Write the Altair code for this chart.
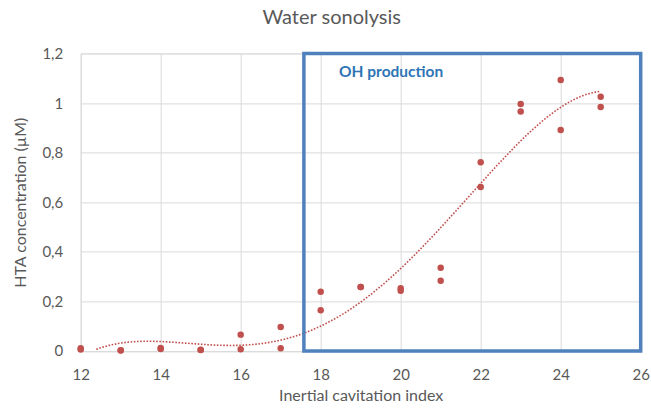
import altair as alt
import pandas as pd

# Measured HTA concentration at each inertial cavitation index (two runs per index)
cavitation_index = [12, 12, 13, 13, 14, 14, 15, 15, 16, 16, 17, 17,
                    18, 18, 19, 19, 20, 20, 21, 21, 22, 22, 23, 23,
                    24, 24, 25, 25]
hta_concentration = [0.011, 0.006, 0.002, 0.003, 0.012, 0.008, 0.004, 0.005,
                     0.066, 0.007, 0.097, 0.011, 0.239, 0.164, 0.258, 0.258,
                     0.253, 0.243, 0.336, 0.283, 0.761, 0.661, 0.996, 0.966,
                     1.093, 0.891, 1.025, 0.984]

# Region of OH radical production
box_x = [17.58]
box_x2 = [26]
box_y = [0]
box_y2 = [1.2]
box_label = ["OH production"]
label_x = [18.46]
label_y = [1.125]

points = pd.DataFrame({"x": cavitation_index, "y": hta_concentration})
box = pd.DataFrame({"x": box_x, "x2": box_x2, "y": box_y, "y2": box_y2})
label = pd.DataFrame({"x": label_x, "y": label_y, "text": box_label})

FONT = "Lato"
GREY = "#595959"
RED = "#c0504d"
BLUE = "#4f81bd"

x_scale = alt.Scale(domain=[12, 26], nice=False, zero=False)
y_scale = alt.Scale(domain=[0, 1.2], nice=False)

x_axis = alt.Axis(
    values=[12, 14, 16, 18, 20, 22, 24, 26],
    title="Inertial cavitation index",
    titleFontSize=16, titleFont=FONT, titleColor=GREY, titleFontWeight="normal",
    titlePadding=5,
    labelFontSize=15, labelFont=FONT, labelColor=GREY, labelPadding=17,
    labelFlush=False,
    domain=False, ticks=False,
    grid=True, gridColor="#d9d9d9",
)
y_axis = alt.Axis(
    values=[0, 0.2, 0.4, 0.6, 0.8, 1.0, 1.2],
    labelExpr="replace(format(datum.value, '~g'), '.', ',')",
    title="HTA concentration (µM)",
    titleFontSize=16, titleFont=FONT, titleColor=GREY, titleFontWeight="normal",
    titleX=-52,
    labelFontSize=15, labelFont=FONT, labelColor=GREY, labelPadding=18,
    labelFlush=False,
    domain=False, ticks=False,
    grid=True, gridColor="#d9d9d9",
)

base = alt.Chart(points)

dots = base.mark_circle(size=42, color=RED, opacity=1).encode(
    x=alt.X("x:Q", scale=x_scale, axis=x_axis),
    y=alt.Y("y:Q", scale=y_scale, axis=y_axis),
)

# Polynomial trendline, clipped at the axis floor
trend = (
    base.transform_regression("x", "y", method="poly", order=4)
    .transform_filter("datum.y >= 0")
    .mark_line(color=RED, strokeWidth=1.6, strokeDash=[1.6, 1.6])
    .encode(x=alt.X("x:Q", scale=x_scale), y=alt.Y("y:Q", scale=y_scale))
)

frame = alt.Chart(box).mark_rect(
    fill=None, stroke=BLUE, strokeWidth=3.5
).encode(
    x=alt.X("x:Q", scale=x_scale), x2="x2:Q",
    y=alt.Y("y:Q", scale=y_scale), y2="y2:Q",
)

tag = alt.Chart(label).mark_text(
    align="left", baseline="middle", font=FONT, fontSize=15.5,
    fontWeight="bold", color="#2e75b6",
).encode(
    x=alt.X("x:Q", scale=x_scale), y=alt.Y("y:Q", scale=y_scale), text="text:N"
)

chart = (
    alt.layer(trend, dots, frame, tag)
    .properties(
        width=560,
        height=297.6,
        title=alt.TitleParams(
            "Water sonolysis", font=FONT, fontSize=20, fontWeight="normal",
            color=GREY, anchor="middle", dx=-29, offset=18,
        ),
        autosize=alt.AutoSizeParams(type="none"),
        padding={"left": 80.7, "top": 53.4, "right": 10, "bottom": 61},
    )
    .configure_view(stroke=None)
    .configure(background="white")
)

chart.save("out.html", embed_options={"renderer": "svg", "actions": False})
